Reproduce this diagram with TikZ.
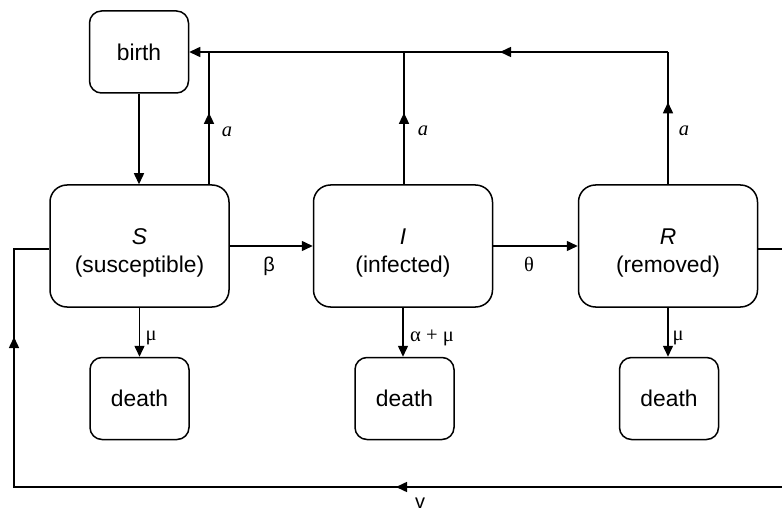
\documentclass[tikz,border=0pt]{standalone}
\usepackage{fontspec}
\setmainfont{Liberation Sans}
\newfontfamily\grk{Liberation Serif}
\usetikzlibrary{arrows.meta,decorations.markings}
\begin{document}
\begin{tikzpicture}[x=1pt,y=-1pt, line width=1.5pt,
 box/.style={draw, rounded corners=17pt, minimum width=179pt, minimum height=122pt, inner sep=0pt},
 btxt/.style={align=center, font=\fontsize{22.8}{28}\selectfont, inner sep=0pt},
 sbox/.style={draw, rounded corners=12pt, minimum width=99pt, minimum height=82pt, font=\fontsize{22.8}{28}\selectfont, inner sep=0pt},
 tip/.style={-{Triangle[length=11pt,width=10pt]}},
 lbl/.style={font=\grk\fontsize{20.5}{24}\selectfont, inner sep=0pt},
 slbl/.style={font=\fontsize{20}{24}\selectfont, inner sep=0pt},
 mid/.style={postaction=decorate, decoration={markings, mark=at position #1 with {\arrow{Triangle[length=11pt,width=10pt]}}}},
 twomid/.style 2 args={postaction=decorate, decoration={markings,
   mark=at position #1 with {\arrow{Triangle[length=11pt,width=10pt]}},
   mark=at position #2 with {\arrow{Triangle[length=11pt,width=10pt]}}}}
]
\useasboundingbox (0,0) rectangle (782,513);

% nodes
\node[sbox] (birth) at (139,52) {birth};
\node[box] (S) at (139.5,246) {};
\node[box] (I) at (403,246) {};
\node[box] (R) at (668,246) {};
\node[btxt] (St) at (139.5,253) {\itshape S\\(susceptible)};
\node[btxt] (It) at (403,253) {\itshape I\\(infected)};
\node[btxt] (Rt) at (668,253) {\itshape R\\(removed)};
\node[sbox] (d1) at (139.5,398.5) {death};
\node[sbox] (d2) at (404.5,398.5) {death};
\node[sbox] (d3) at (669,398.5) {death};

% coordinates
\coordinate (ja) at (209,52);
\coordinate (jb) at (404,52);
\coordinate (jc) at (668,52);
\coordinate (re) at (782,249);
\coordinate (be) at (782,487);
\coordinate (bl) at (14,487);
\coordinate (tl) at (14,249);

% birth to S
\draw[tip] (birth.south) -- (birth.south |- S.north);

% return to birth
\draw[mid=0.54] (S.north -| ja) -- (ja);
\draw[mid=0.54] (I.north -| jb) -- (jb);
\draw[mid=0.62] (R.north) -- (jc);
\draw[tip, mid=168pt] (jc) -- (birth.east);

% transitions
\draw[tip] (S.east) -- (I.west);
\draw[tip] (I.east) -- (R.west);

% deaths
\draw[tip] (S.south) -- (d1.north);
\draw[tip] (I.south) -- (I.south |- d2.north);
\draw[tip] (R.south) -- (R.south |- d3.north);

% return loop
\draw ([yshift=-3pt]R.east) -- (re);
\draw[twomid={386pt}{918pt}] (be) -- (bl) -- (tl) -- ([yshift=-3pt]S.west);

% labels
\node[lbl] (la1) at (227,132) {\itshape a};
\node[lbl] (la2) at (423,131) {\itshape a};
\node[lbl] (la3) at (684,131) {\itshape a};
\node[slbl] (lb) at (269,266) {β};
\node[lbl] (lt) at (529,264) {θ};
\node[lbl] (lm1) at (151,338) {μ};
\node[lbl] (lam) at (432,338) {α + μ};
\node[lbl] (lm3) at (678,338) {μ};
\node[slbl] (lv) at (420,503.5) {v};
\end{tikzpicture}
\end{document}
